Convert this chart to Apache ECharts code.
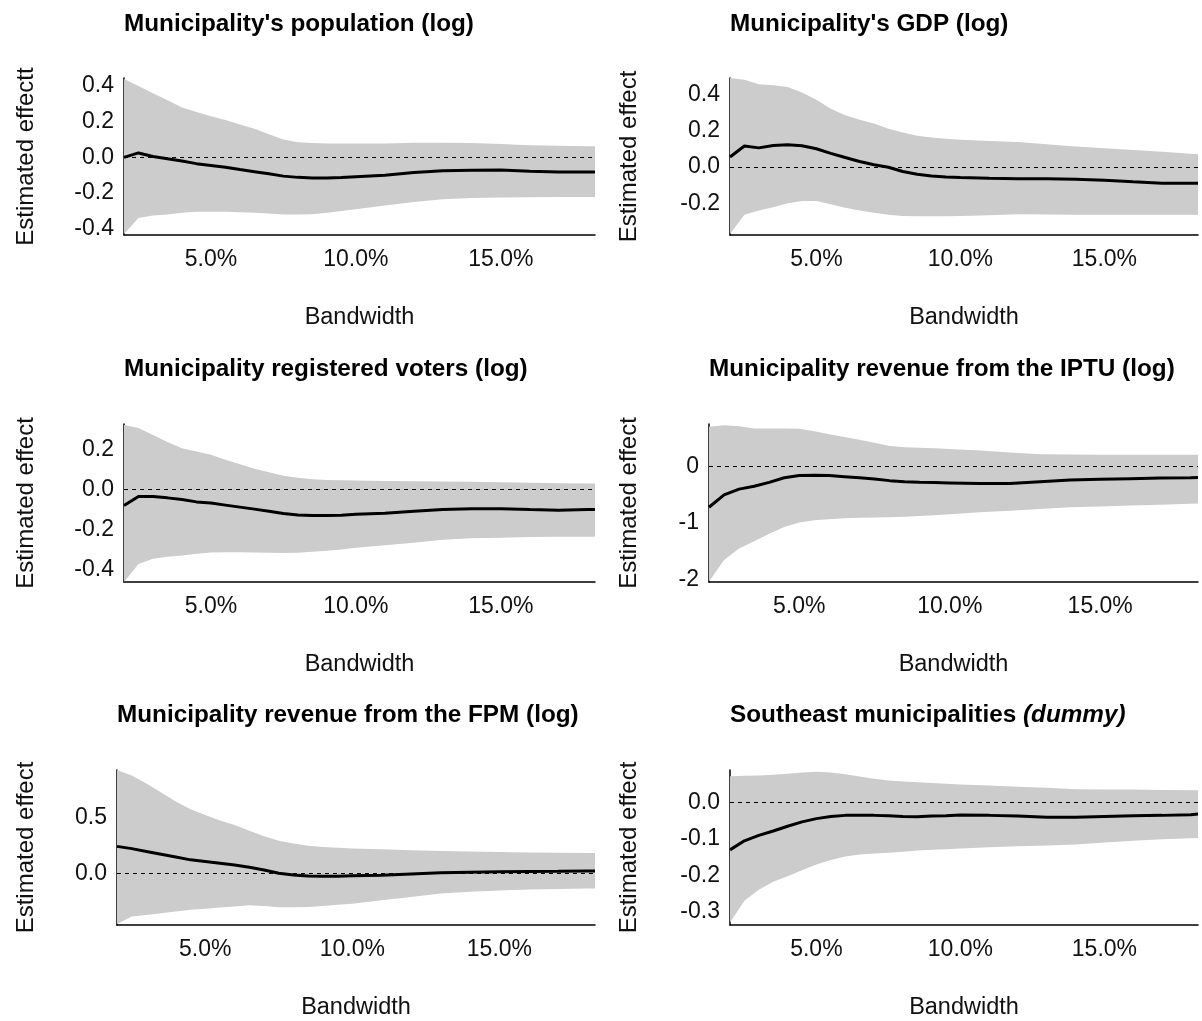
<!DOCTYPE html>
<html>
<head>
<meta charset="utf-8">
<script src="https://cdn.jsdelivr.net/npm/echarts@6/dist/echarts.min.js"></script>
<style>
html,body{margin:0;padding:0;background:#fff;}
#chart{width:1202px;height:1021px;}
</style>
</head>
<body>
<div id="chart"></div>
<script>
// Bandwidth (%) at which the estimates were computed
const bandwidth = [2.0,2.5,3.0,3.5,4.0,4.5,5.0,5.5,6.0,6.5,7.0,7.5,8.0,8.5,9.0,9.5,10,11,12,13,14,15,16,17,18,18.25];
const xTicks = [5, 10, 15];

const titles = [
  "Municipality's population (log)",
  "Municipality's GDP (log)",
  "Municipality registered voters (log)",
  "Municipality revenue from the IPTU (log)",
  "Municipality revenue from the FPM (log)",
  "Southeast municipalities (dummy)"
];
const yNames = ["Estimated effectt","Estimated effect","Estimated effect","Estimated effect","Estimated effect","Estimated effect"];

// Panel 1: population
const est1 = [0.0,0.025,0.005,-0.008,-0.02,-0.035,-0.045,-0.055,-0.068,-0.08,-0.092,-0.105,-0.112,-0.115,-0.115,-0.113,-0.108,-0.1,-0.085,-0.075,-0.072,-0.07,-0.078,-0.082,-0.082,-0.082];
const hi1 = [0.44,0.40,0.36,0.32,0.28,0.255,0.23,0.21,0.185,0.16,0.13,0.10,0.085,0.08,0.078,0.078,0.078,0.078,0.082,0.082,0.08,0.075,0.068,0.065,0.062,0.062];
const lo1 = [-0.43,-0.34,-0.325,-0.32,-0.31,-0.305,-0.305,-0.305,-0.307,-0.31,-0.315,-0.32,-0.32,-0.318,-0.31,-0.30,-0.29,-0.27,-0.25,-0.235,-0.228,-0.225,-0.223,-0.222,-0.222,-0.222];
const yTicks1 = [-0.4,-0.2,0.0,0.2,0.4];

// Panel 2: GDP
const est2 = [0.055,0.115,0.105,0.118,0.122,0.117,0.10,0.075,0.052,0.03,0.012,-0.002,-0.025,-0.04,-0.05,-0.055,-0.058,-0.063,-0.065,-0.065,-0.068,-0.073,-0.082,-0.09,-0.09,-0.09];
const hi2 = [0.49,0.48,0.455,0.45,0.44,0.41,0.37,0.32,0.285,0.26,0.24,0.21,0.19,0.172,0.162,0.155,0.15,0.143,0.137,0.125,0.113,0.103,0.093,0.083,0.073,0.07];
const lo2 = [-0.37,-0.263,-0.24,-0.222,-0.2,-0.187,-0.188,-0.205,-0.225,-0.24,-0.253,-0.263,-0.27,-0.272,-0.272,-0.272,-0.27,-0.266,-0.26,-0.262,-0.263,-0.263,-0.263,-0.263,-0.263,-0.263];
const yTicks2 = [-0.2,0.0,0.2,0.4];

// Panel 3: registered voters
const est3 = [-0.08,-0.035,-0.035,-0.042,-0.05,-0.062,-0.068,-0.078,-0.088,-0.098,-0.108,-0.12,-0.127,-0.13,-0.13,-0.128,-0.124,-0.118,-0.108,-0.1,-0.096,-0.096,-0.1,-0.103,-0.1,-0.1];
const hi3 = [0.32,0.305,0.27,0.235,0.205,0.188,0.172,0.148,0.125,0.103,0.085,0.068,0.058,0.05,0.047,0.045,0.044,0.042,0.04,0.039,0.038,0.035,0.033,0.031,0.03,0.03];
const lo3 = [-0.46,-0.37,-0.345,-0.335,-0.328,-0.32,-0.313,-0.312,-0.312,-0.313,-0.315,-0.316,-0.315,-0.31,-0.305,-0.298,-0.29,-0.277,-0.265,-0.25,-0.243,-0.24,-0.237,-0.235,-0.235,-0.235];
const yTicks3 = [-0.4,-0.2,0.0,0.2];

// Panel 4: IPTU revenue
const est4 = [-0.72,-0.5,-0.4,-0.35,-0.28,-0.2,-0.16,-0.155,-0.16,-0.18,-0.2,-0.22,-0.25,-0.27,-0.28,-0.285,-0.29,-0.3,-0.3,-0.27,-0.24,-0.225,-0.215,-0.205,-0.2,-0.196];
const hi4 = [0.70,0.73,0.71,0.67,0.67,0.67,0.665,0.62,0.57,0.52,0.47,0.42,0.36,0.34,0.33,0.32,0.31,0.28,0.245,0.215,0.21,0.208,0.208,0.206,0.205,0.205];
const lo4 = [-2.03,-1.65,-1.45,-1.32,-1.19,-1.07,-0.99,-0.95,-0.93,-0.915,-0.905,-0.9,-0.895,-0.89,-0.875,-0.86,-0.845,-0.81,-0.78,-0.75,-0.72,-0.705,-0.69,-0.675,-0.66,-0.655];
const yTicks4 = [-2,-1,0];

// Panel 5: FPM revenue
const est5 = [0.24,0.22,0.195,0.17,0.145,0.12,0.105,0.09,0.075,0.055,0.03,0.0,-0.015,-0.024,-0.026,-0.025,-0.022,-0.017,-0.005,0.005,0.01,0.015,0.017,0.018,0.02,0.02];
const hi5 = [0.92,0.87,0.8,0.72,0.64,0.57,0.52,0.47,0.43,0.38,0.33,0.29,0.265,0.245,0.235,0.228,0.222,0.214,0.205,0.198,0.194,0.19,0.186,0.183,0.18,0.18];
const lo5 = [-0.45,-0.385,-0.37,-0.355,-0.34,-0.325,-0.315,-0.305,-0.295,-0.285,-0.29,-0.303,-0.303,-0.3,-0.29,-0.28,-0.27,-0.24,-0.21,-0.18,-0.163,-0.152,-0.145,-0.14,-0.135,-0.135];
const yTicks5 = [0.0,0.5];

// Panel 6: Southeast dummy
const est6 = [-0.13,-0.105,-0.09,-0.078,-0.065,-0.053,-0.044,-0.038,-0.035,-0.035,-0.035,-0.036,-0.038,-0.039,-0.037,-0.036,-0.034,-0.035,-0.037,-0.04,-0.04,-0.038,-0.036,-0.035,-0.033,-0.031];
const hi6 = [0.073,0.074,0.075,0.077,0.08,0.083,0.085,0.083,0.078,0.072,0.066,0.061,0.058,0.056,0.054,0.052,0.05,0.047,0.044,0.041,0.037,0.036,0.036,0.035,0.034,0.034];
const lo6 = [-0.33,-0.27,-0.24,-0.218,-0.203,-0.186,-0.17,-0.158,-0.148,-0.143,-0.14,-0.138,-0.135,-0.132,-0.13,-0.128,-0.126,-0.123,-0.12,-0.118,-0.115,-0.11,-0.105,-0.101,-0.098,-0.097];
const yTicks6 = [-0.3,-0.2,-0.1,0.0];

const panels = [
  {est: est1, lo: lo1, hi: hi1, ticks: yTicks1, dec: 1, ymin: -0.435, ymax: 0.445},
  {est: est2, lo: lo2, hi: hi2, ticks: yTicks2, dec: 1, ymin: -0.375, ymax: 0.49},
  {est: est3, lo: lo3, hi: hi3, ticks: yTicks3, dec: 1, ymin: -0.46, ymax: 0.325},
  {est: est4, lo: lo4, hi: hi4, ticks: yTicks4, dec: 0, ymin: -2.04, ymax: 0.75},
  {est: est5, lo: lo5, hi: hi5, ticks: yTicks5, dec: 1, ymin: -0.46, ymax: 0.92},
  {est: est6, lo: lo6, hi: hi6, ticks: yTicks6, dec: 1, ymin: -0.337, ymax: 0.09}
];

// layout (pixels)
const grids = [
  {left: 124, top: 78,  width: 471, height: 157, yGap: 86, titleTop: 12},
  {left: 730, top: 78,  width: 468, height: 157, yGap: 89, titleTop: 12},
  {left: 124, top: 424, width: 471, height: 158, yGap: 86, titleTop: 357},
  {left: 709, top: 424, width: 489, height: 158, yGap: 68, titleTop: 357},
  {left: 117, top: 770, width: 478, height: 157, yGap: 79, titleTop: 703},
  {left: 730, top: 770, width: 468, height: 157, yGap: 89, titleTop: 703}
];

const FONT = "'Liberation Sans', Arial, Helvetica, sans-serif";
const TXT = '#111';

const option = {
  backgroundColor: '#fff',
  animation: false,
  title: [],
  grid: [],
  xAxis: [],
  yAxis: [],
  series: []
};

panels.forEach((p, i) => {
  const g = grids[i];
  const isDummy = i === 5;
  option.title.push({
    left: g.left,
    top: g.titleTop,
    padding: 0,
    text: isDummy ? '{b|Southeast municipalities }{bi|(dummy)}' : titles[i],
    textStyle: {
      fontFamily: FONT, fontSize: 24.3, fontWeight: 'bold', color: '#000',
      rich: {
        b: {fontFamily: FONT, fontSize: 24.3, fontWeight: 'bold', color: '#000'},
        bi: {fontFamily: FONT, fontSize: 24.3, fontWeight: 'bold', fontStyle: 'italic', color: '#000'}
      }
    }
  });
  option.grid.push({left: g.left, top: g.top, width: g.width, height: g.height, containLabel: false});
  option.xAxis.push({
    type: 'value', gridIndex: i,
    min: bandwidth[0], max: bandwidth[bandwidth.length - 1],
    name: 'Bandwidth', nameLocation: 'middle', nameGap: 71,
    nameTextStyle: {fontFamily: FONT, fontSize: 23.5, color: TXT},
    axisLine: {show: true, onZero: false, lineStyle: {color: '#000', width: 1.5}},
    axisTick: {show: false},
    splitLine: {show: false},
    axisLabel: {
      customValues: xTicks, margin: 13,
      fontFamily: FONT, fontSize: 23, color: TXT,
      formatter: v => v.toFixed(1) + '%'
    }
  });
  option.yAxis.push({
    type: 'value', gridIndex: i,
    min: p.ymin, max: p.ymax,
    name: yNames[i], nameLocation: 'middle', nameRotate: 90, nameGap: g.yGap,
    nameTextStyle: {fontFamily: FONT, fontSize: 24, color: TXT},
    axisLine: {show: true, onZero: false, lineStyle: {color: '#000', width: 1.5}},
    axisTick: {show: false},
    splitLine: {show: false},
    axisLabel: {
      customValues: p.ticks, margin: 10, padding: [4, 0, 0, 0],
      fontFamily: FONT, fontSize: 23, color: TXT,
      formatter: v => v.toFixed(p.dec)
    }
  });
  // confidence band polygon
  option.series.push({
    type: 'custom', xAxisIndex: i, yAxisIndex: i, silent: true, z: 1,
    data: bandwidth.map((b, k) => [b, p.lo[k], p.hi[k]]),
    encode: {x: 0, y: [1, 2]},
    renderItem: (params, api) => {
      if (params.dataIndex !== 0) return null;
      const pts = [];
      for (let k = 0; k < bandwidth.length; k++) pts.push(api.coord([bandwidth[k], p.hi[k]]));
      for (let k = bandwidth.length - 1; k >= 0; k--) pts.push(api.coord([bandwidth[k], p.lo[k]]));
      return {type: 'polygon', shape: {points: pts}, style: {fill: '#cccccc', stroke: null}};
    }
  });
  // estimate line + zero reference
  option.series.push({
    type: 'line', xAxisIndex: i, yAxisIndex: i, z: 3,
    data: bandwidth.map((b, k) => [b, p.est[k]]),
    showSymbol: false, symbol: 'none', smooth: false,
    lineStyle: {color: '#000', width: 3},
    silent: true,
    markLine: {
      silent: true, symbol: ['none', 'none'], label: {show: false},
      lineStyle: {type: [4, 4], color: '#000', width: 1},
      data: [{yAxis: 0}],
      z: 2
    }
  });
});

const chart = echarts.init(document.getElementById('chart'), null, {renderer: 'canvas'});
chart.setOption(option);
</script>
</body>
</html>
